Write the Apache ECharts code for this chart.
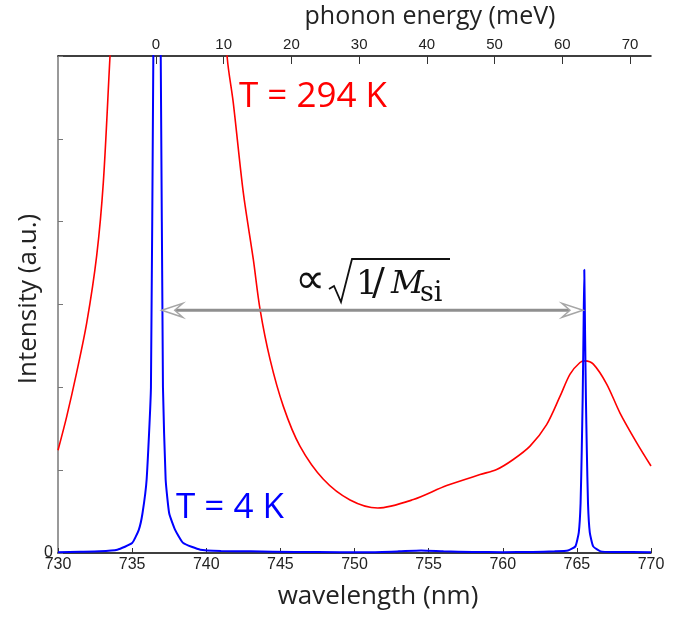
<!DOCTYPE html>
<html><head><meta charset="utf-8">
<script src="https://cdn.jsdelivr.net/npm/echarts@6/dist/echarts.min.js"></script>
<style>html,body{margin:0;padding:0;background:#fff}#c{width:687px;height:617px}</style>
</head><body><div id="c"></div>
<script>
// ---- data ----
const wavelength4K = [730.0,731.5,732.8,734.0,735.0,735.45,735.7,735.98,736.27,736.43,736.68,736.93,737.08,737.26,737.5,737.9,738.45,739.6,741.0,743.0,746.0,749.0,751.0,753.0,754.5,756.0,758.0,760.0,762.0,763.5,764.4,764.9,765.13,765.25,765.33,765.39,765.45,765.50,765.55,765.61,765.67,765.75,765.87,766.1,766.6,767.5,770.0];
const intensity4K  = [0.01,0.015,0.02,0.04,0.12,0.28,0.48,0.89,2.0,6.0,9.0,6.0,2.0,0.89,0.48,0.28,0.12,0.04,0.025,0.02,0.012,0.01,0.01,0.02,0.03,0.02,0.012,0.01,0.012,0.02,0.03,0.08,0.25,0.6,1.25,1.86,2.7,3.42,2.7,1.86,1.25,0.6,0.25,0.08,0.02,0.012,0.01];
const wavelength294K = [730.0,730.59,731.26,731.94,732.61,733.06,733.51,734.3,735.5,736.8,738.5,740.0,740.9,741.42,741.82,742.5,743.17,743.63,744.3,745.2,746.32,747.9,749.7,751.57,753.97,756.22,758.47,759.59,760.71,761.84,762.96,763.86,764.54,765.21,765.55,766.11,767.01,767.91,769.04,770.0];
const intensity294K  = [1.24,1.65,2.18,2.78,3.59,4.48,6.0,8.5,12,14,13,10,7.5,5.97,5.44,4.35,3.55,2.94,2.34,1.77,1.29,0.89,0.64,0.543,0.645,0.814,0.947,1.008,1.129,1.29,1.55,1.89,2.16,2.30,2.32,2.28,2.04,1.69,1.33,1.05];
const wavelengthRange = [730, 770];
const wavelengthStep = 5;
const energyTicks = [0,10,20,30,40,50,60,70];
const energyRange = [-14.47, 73.1];
const intensityRange = [0, 6];
const arrowWavelengths = [737.0, 765.41];
const arrowIntensity = 2.93;
const labels = { hot: 'T = 294 K', cold: 'T = 4 K' };
const axisTitles = { x: 'wavelength (nm)', top: 'phonon energy (meV)', y: 'Intensity (a.u.)' };

const zip = (xs, ys) => xs.map((x, i) => [x, ys[i]]);
const chart = echarts.init(document.getElementById('c'), null, { renderer: 'canvas' });
const tickFont = '"Liberation Sans Narrow","Arial Narrow","Liberation Sans",sans-serif';

chart.setOption({
  animation: false,
  backgroundColor: '#fff',
  grid: { left: 58, right: 36, top: 56, bottom: 64, outerBoundsMode: 'none', containLabel: false },
  xAxis: [{
    type: 'value', position: 'bottom', min: wavelengthRange[0], max: wavelengthRange[1], interval: wavelengthStep,
    axisLine: { onZero: false, lineStyle: { color: '#000', width: 1.5 } },
    axisTick: { inside: true, length: 5, lineStyle: { color: '#333', width: 1 } },
    axisLabel: { fontFamily: tickFont, fontSize: 16, color: '#222', margin: 4 },
    splitLine: { show: false }
  }, {
    type: 'value', position: 'top', min: energyRange[0], max: energyRange[1],
    axisLine: { onZero: false, lineStyle: { color: '#000', width: 1.5 } },
    axisTick: { inside: true, length: 8, customValues: energyTicks, lineStyle: { color: '#333', width: 1 } },
    axisLabel: { customValues: energyTicks, fontFamily: tickFont, fontSize: 15, color: '#222', margin: 4 },
    splitLine: { show: false }
  }],
  yAxis: {
    type: 'value', min: intensityRange[0], max: intensityRange[1], interval: 1,
    axisLine: { show: true, onZero: false, lineStyle: { color: '#777', width: 1.5 } },
    axisTick: { show: true, inside: true, length: 5, lineStyle: { color: '#777', width: 1 } },
    axisLabel: { formatter: v => (v === 0 ? '0' : ''), fontFamily: tickFont, fontSize: 16, color: '#222', margin: 5 },
    splitLine: { show: false }
  },
  series: [{
    name: labels.hot, type: 'line', xAxisIndex: 0, data: zip(wavelength294K, intensity294K),
    showSymbol: false, smooth: 0.3, clip: true, lineStyle: { color: '#ff0000', width: 1.6 }, z: 2
  }, {
    name: labels.cold, type: 'line', xAxisIndex: 0, data: zip(wavelength4K, intensity4K),
    showSymbol: false, smooth: 0.15, clip: true, lineStyle: { color: '#0000ff', width: 2 }, z: 3
  }]
});

// annotations (arrow positioned through the chart's own scales)
const a = chart.convertToPixel({ xAxisIndex: 0, yAxisIndex: 0 }, [arrowWavelengths[0], arrowIntensity]);
const b = chart.convertToPixel({ xAxisIndex: 0, yAxisIndex: 0 }, [arrowWavelengths[1], arrowIntensity]);
const headLen = 21, headHalf = 7, notch = 8;
const mathFont = '"DejaVu Serif",serif';
const sansFont = '"Open Sans",sans-serif';
chart.setOption({
  graphic: [
    { type: 'line', shape: { x1: a[0] + notch, y1: a[1], x2: b[0] - notch, y2: b[1] }, style: { stroke: '#8f8f8f', lineWidth: 3 }, z: 10 },
    { type: 'polygon', shape: { points: [[a[0], a[1]], [a[0] + headLen, a[1] - headHalf], [a[0] + notch + 5, a[1]], [a[0] + headLen, a[1] + headHalf]] }, style: { fill: '#fff', stroke: '#a6a6a6', lineWidth: 1.5 }, z: 11 },
    { type: 'polygon', shape: { points: [[b[0], b[1]], [b[0] - headLen, b[1] - headHalf], [b[0] - notch - 5, b[1]], [b[0] - headLen, b[1] + headHalf]] }, style: { fill: '#fff', stroke: '#a6a6a6', lineWidth: 1.5 }, z: 11 },
    { type: 'text', x: 239, y: 97, style: { text: labels.hot, fill: '#ff0000', font: '35px ' + sansFont, verticalAlign: 'middle' }, z: 12 },
    { type: 'text', x: 176, y: 508, style: { text: labels.cold, fill: '#0000ff', font: '35px ' + sansFont, verticalAlign: 'middle' }, z: 12 },
    { type: 'text', x: 430, y: 17, style: { text: axisTitles.top, fill: '#222', font: '25px ' + sansFont, align: 'center', verticalAlign: 'middle' }, z: 12 },
    { type: 'text', x: 378, y: 597, style: { text: axisTitles.x, fill: '#222', font: '26px ' + sansFont, align: 'center', verticalAlign: 'middle' }, z: 12 },
    { type: 'text', x: 29, y: 299, rotation: Math.PI / 2, style: { text: axisTitles.y, fill: '#222', font: '26px ' + sansFont, align: 'center', verticalAlign: 'middle' }, z: 12 },
    { type: 'text', x: 295, y: 282, style: { text: '∝', fill: '#111', font: '42px "DejaVu Sans",sans-serif', verticalAlign: 'middle' }, z: 12 },
    { type: 'polyline', shape: { points: [[329, 289], [334, 286], [341, 302], [352, 259], [450, 259]] }, style: { stroke: '#111', lineWidth: 1.8, fill: null }, z: 12 },
    { type: 'text', x: 356, y: 285, style: { text: '1', fill: '#111', font: '34px ' + mathFont, verticalAlign: 'middle' }, z: 12 },
    { type: 'text', x: 372, y: 284, style: { text: '/', fill: '#111', font: '38px ' + mathFont, verticalAlign: 'middle' }, z: 12 },
    { type: 'text', x: 391, y: 285, style: { text: 'M', fill: '#111', font: 'italic 32px ' + mathFont, verticalAlign: 'middle' }, z: 12 },
    { type: 'text', x: 420, y: 294, style: { text: 'si', fill: '#111', font: '27px ' + mathFont, verticalAlign: 'middle' }, z: 12 }
  ]
});
</script></body></html>
